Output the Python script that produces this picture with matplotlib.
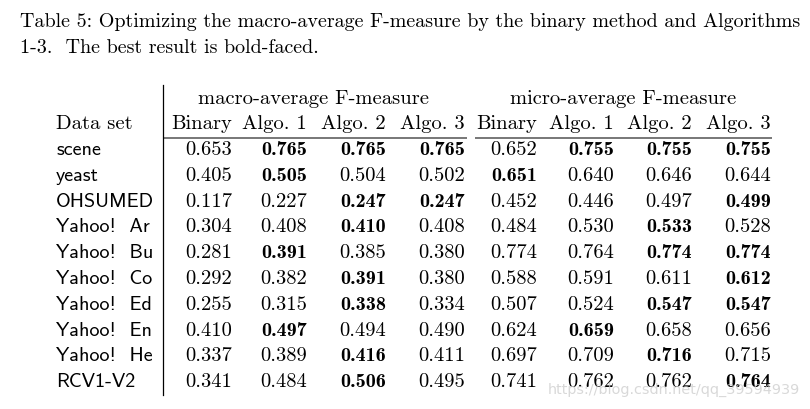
import matplotlib.pyplot as plt

datasets = ["scene", "yeast", "OHSUMED", "Yahoo!  Ar", "Yahoo!  Bu", "Yahoo!  Co",
            "Yahoo!  Ed", "Yahoo!  En", "Yahoo!  He", "RCV1-V2"]

groups = ["macro-average F-measure", "micro-average F-measure"]
methods = ["Binary", "Algo. 1", "Algo. 2", "Algo. 3"]

macro_binary = [0.653, 0.405, 0.117, 0.304, 0.281, 0.292, 0.255, 0.410, 0.337, 0.341]
macro_algo1 = [0.765, 0.505, 0.227, 0.408, 0.391, 0.382, 0.315, 0.497, 0.389, 0.484]
macro_algo2 = [0.765, 0.504, 0.247, 0.410, 0.385, 0.391, 0.338, 0.494, 0.416, 0.506]
macro_algo3 = [0.765, 0.502, 0.247, 0.408, 0.380, 0.380, 0.334, 0.490, 0.411, 0.495]

micro_binary = [0.652, 0.651, 0.452, 0.484, 0.774, 0.588, 0.507, 0.624, 0.697, 0.741]
micro_algo1 = [0.755, 0.640, 0.446, 0.530, 0.764, 0.591, 0.524, 0.659, 0.709, 0.762]
micro_algo2 = [0.755, 0.646, 0.497, 0.533, 0.774, 0.611, 0.547, 0.658, 0.716, 0.762]
micro_algo3 = [0.755, 0.644, 0.499, 0.528, 0.774, 0.612, 0.547, 0.656, 0.715, 0.764]

# column indices (0-7) printed in bold for each row
bold_cols = [[1, 2, 3, 5, 6, 7], [1, 4], [2, 3, 7], [2, 6], [1, 6, 7],
             [2, 7], [2, 6, 7], [1, 5], [2, 6], [2, 7]]

caption = ["Table 5: Optimizing the macro-average F-measure by the binary method and Algorithms",
           "1-3.  The best result is bold-faced."]

columns = [macro_binary, macro_algo1, macro_algo2, macro_algo3,
           micro_binary, micro_algo1, micro_algo2, micro_algo3]

col_right = [232, 307, 386, 465, 537, 614, 692, 771]
group_center = [314, 623]
row_base0, row_step = 155, 25.8

fig = plt.figure(figsize=(8.1, 4.1), dpi=100)
ax = fig.add_axes([0, 0, 1, 1])
ax.set_xlim(0, 810)
ax.set_ylim(410, 0)
ax.axis("off")

ax.text(20, 27, caption[0], family="cmr10", fontsize=14.45, va="baseline")
ax.text(20, 53, caption[1], family="cmr10", fontsize=14.45, va="baseline")

for g, cx in zip(groups, group_center):
    ax.text(cx, 104, g, family="cmr10", fontsize=14.8, ha="center", va="baseline")

ax.text(56, 129, "Data set", family="cmr10", fontsize=14.8, va="baseline")
for j, x in enumerate(col_right):
    ax.text(x, 129, methods[j % 4], family="cmr10", fontsize=14.8, ha="right", va="baseline")

ax.plot([163, 467], [139, 139], color="#777777", lw=1.4, solid_capstyle="butt")
ax.plot([475, 772], [139, 139], color="#777777", lw=1.4, solid_capstyle="butt")
ax.plot([163, 163], [86, 396], color="black", lw=0.9)

for i, name in enumerate(datasets):
    y = row_base0 + i * row_step
    ax.text(56, y, name, family="cmss10", fontsize=14.5, va="baseline")
    for j, col in enumerate(columns):
        if j in bold_cols[i]:
            ax.text(col_right[j], y, f"{col[i]:.3f}", family="cmb10", fontsize=14.5,
                    ha="right", va="baseline")
        else:
            ax.text(col_right[j], y, f"{col[i]:.3f}", family="cmr10", fontsize=14.8,
                    ha="right", va="baseline")

ax.text(800, 394, "https://blog.csdn.net/qq_39594939", family="DejaVu Sans", fontsize=10.4,
        color="#cccccc", alpha=0.75, ha="right", va="baseline")

fig.savefig("out.png", dpi=100, facecolor="white")
